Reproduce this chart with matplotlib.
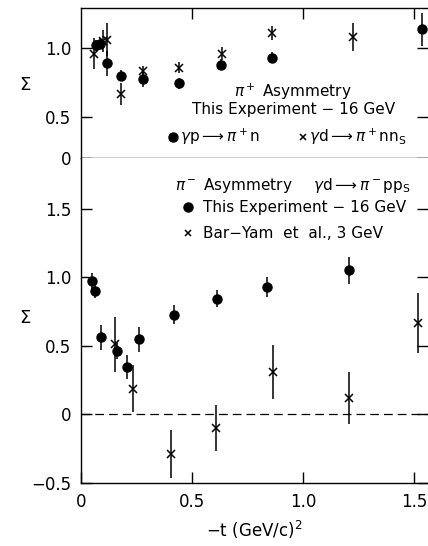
import matplotlib

matplotlib.use('Agg')
import matplotlib.pyplot as plt

plt.rcParams['font.family'] = ['DejaVu Sans']
plt.rcParams['mathtext.fontset'] = 'dejavusans'

# pi+ asymmetry, gamma p -> pi+ n (this experiment, 16 GeV)
pp_t = [0.068, 0.086, 0.116, 0.18, 0.28, 0.44, 0.63, 0.859, 1.535]
pp_sig = [1.02, 1.03, 0.89, 0.80, 0.775, 0.745, 0.877, 0.93, 1.135]
pp_err = [0.04, 0.04, 0.09, 0.04, 0.06, 0.04, 0.04, 0.04, 0.12]

# pi+ asymmetry, gamma d -> pi+ n n_s
pd_t = [0.059, 0.10, 0.116, 0.179, 0.28, 0.44, 0.634, 0.859, 1.222]
pd_sig = [0.96, 1.05, 1.06, 0.667, 0.83, 0.857, 0.96, 1.11, 1.08]
pd_err = [0.11, 0.08, 0.12, 0.08, 0.04, 0.04, 0.05, 0.05, 0.10]

# pi- asymmetry, gamma d -> pi- p p_s (this experiment, 16 GeV)
mn_t = [0.048, 0.065, 0.092, 0.161, 0.209, 0.261, 0.42, 0.614, 0.836, 1.207]
mn_sig = [0.973, 0.90, 0.562, 0.465, 0.345, 0.547, 0.727, 0.844, 0.93, 1.05]
mn_err = [0.06, 0.05, 0.09, 0.06, 0.09, 0.09, 0.07, 0.06, 0.07, 0.10]

# Bar-Yam et al., 3 GeV
by_t = [0.155, 0.236, 0.405, 0.607, 0.862, 1.207, 1.515]
by_sig = [0.51, 0.187, -0.287, -0.10, 0.309, 0.12, 0.667]
by_err = [0.20, 0.17, 0.175, 0.17, 0.20, 0.19, 0.22]

x_ticks = [0.5, 1.0, 1.5]
x_labels = ['0', '0.5', '1.0', '1.5']
top_yticks = [0.2, 0.5, 1.0]
top_ylabels = ['0', '0.5', '1.0']
bot_yticks = [-0.5, 0.0, 0.5, 1.0, 1.5]
bot_ylabels = ['\u22120.5', '0', '0.5', '1.0', '1.5']

fig = plt.figure(figsize=(4.28, 5.46), dpi=100)
ax1 = fig.add_axes([0.189, 0.7106, 0.812, 0.2744])
ax2 = fig.add_axes([0.189, 0.1154, 0.812, 0.5952])

dot_kw = dict(fmt='o', color='black', ms=6.5, elinewidth=1.1, capsize=0)
cross_kw = dict(fmt='x', color='black', ms=6, mew=1.1, elinewidth=1.1, capsize=0)

ax1.errorbar(pp_t, pp_sig, yerr=pp_err, **dot_kw)
ax1.errorbar(pd_t, pd_sig, yerr=pd_err, **cross_kw)
ax2.errorbar(mn_t, mn_sig, yerr=mn_err, **dot_kw)
ax2.errorbar(by_t, by_sig, yerr=by_err, **cross_kw)
ax2.axhline(0, color='black', lw=0.9, ls=(0, (7, 4)))

for ax in (ax1, ax2):
    ax.set_xlim(0, 1.563)
    ax.spines['right'].set_visible(False)
    for s in ax.spines.values():
        s.set_linewidth(1.0)
    ax.tick_params(direction='in', length=8, width=1.0, labelsize=12,
                   right=True, top=(ax is ax1), pad=7)
    ax.set_ylabel('\u03a3', fontsize=13, rotation=0, va='center')

ax1.yaxis.set_label_coords(-0.161, 0.49)
ax2.yaxis.set_label_coords(-0.161, 0.508)

ax1.set_ylim(0.2, 1.29)
ax1.set_yticks(top_yticks, top_ylabels)
ax1.set_xticks(x_ticks)
ax1.tick_params(labelbottom=False, bottom=False)

ax2.set_ylim(-0.5, 1.87)
ax2.set_yticks(bot_yticks, bot_ylabels)
ax2.set_xticks([0.0] + x_ticks, x_labels)
ax2.spines['top'].set_visible(False)
ax2.set_xlabel('\u2212t (GeV/c)$^2$', fontsize=12, labelpad=6)

fs = 11
ax1.text(0.955, 0.68, r'$\pi^+$ Asymmetry', fontsize=fs, ha='center', va='center')
ax1.text(0.955, 0.55, 'This Experiment \u2212 16 GeV', fontsize=fs, ha='center', va='center')
ax1.plot([0.415], [0.355], 'o', color='black', ms=6.5)
ax1.text(0.445, 0.355, r'$\gamma$p$\longrightarrow\pi^+$n', fontsize=fs, va='center')
ax1.plot([1.0], [0.355], 'x', color='black', ms=5, mew=1.1)
ax1.text(1.028, 0.355, r'$\gamma$d$\longrightarrow\pi^+$nn$_{\rm S}$', fontsize=fs, va='center')

ax2.text(0.423, 1.67, r'$\pi^-$ Asymmetry', fontsize=fs, va='center')
ax2.text(1.045, 1.67, r'$\gamma$d$\longrightarrow\pi^-$pp$_{\rm S}$', fontsize=fs, va='center')
ax2.plot([0.48], [1.51], 'o', color='black', ms=6.5)
ax2.text(0.55, 1.51, 'This Experiment \u2212 16 GeV', fontsize=fs, va='center')
ax2.plot([0.48], [1.32], 'x', color='black', ms=5, mew=1.1)
ax2.text(0.55, 1.32, 'Bar\u2212Yam  et  al., 3 GeV', fontsize=fs, va='center')

fig.savefig('out.png', dpi=100)
